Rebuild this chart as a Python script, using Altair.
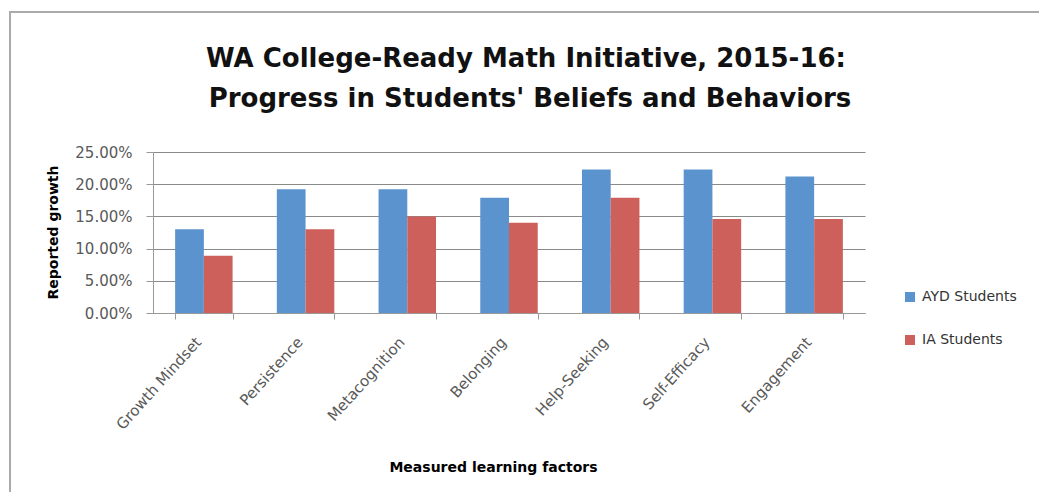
import altair as alt
import pandas as pd

factors = ["Growth Mindset", "Persistence", "Metacognition", "Belonging",
           "Help-Seeking", "Self-Efficacy", "Engagement"]
ayd = [0.130, 0.192, 0.192, 0.179, 0.223, 0.223, 0.212]
ia = [0.089, 0.130, 0.150, 0.140, 0.179, 0.146, 0.146]
series = ["AYD Students", "IA Students"]
colors = ["#5B93CE", "#CD605A"]
y_ticks = [0, 0.05, 0.10, 0.15, 0.20, 0.25]
title_lines = ["WA College-Ready Math Initiative, 2015-16:",
               "Progress in Students' Beliefs and Behaviors"]

rows = []
for f, a, b in zip(factors, ayd, ia):
    rows.append({"factor": f, "series": series[0], "value": a})
    rows.append({"factor": f, "series": series[1], "value": b})
df = pd.DataFrame(rows)

FONT = "DejaVu Sans"

bars = alt.Chart(df).mark_bar().encode(
    x=alt.X("factor:N", sort=factors,
            scale=alt.Scale(paddingInner=0.435, paddingOuter=0.2175),
            axis=alt.Axis(title="Measured learning factors", labelAngle=-48,
                          labelFontSize=15, labelColor="#595959", labelFont=FONT,
                          labelAlign="right", labelBaseline="middle", labelPadding=20,
                          labelOffset=-6,
                          tickBand="extent", tickSize=6, tickColor="#999999",
                          domainColor="#999999", grid=False,
                          titleFont=FONT, titleFontSize=14, titleFontWeight="bold",
                          titleColor="#000000", titleX=340, titleY=154,
                          titleAlign="center", titleBaseline="middle")),
    xOffset=alt.XOffset("series:N", sort=series, scale=alt.Scale(paddingInner=0, paddingOuter=0)),
    y=alt.Y("value:Q", scale=alt.Scale(domain=[0, 0.25], nice=False),
            axis=alt.Axis(title="Reported growth", values=y_ticks, format=".2%",
                          labelFontSize=15, labelColor="#595959", labelFont=FONT,
                          labelPadding=14, tickSize=7, tickColor="#999999",
                          domainColor="#999999", gridColor="#8a8a8a",
                          titleFont=FONT, titleFontSize=14, titleFontWeight="bold",
                          titleColor="#000000", titleX=-100, titleY=80,
                          titleAlign="center", titleBaseline="middle")),
    color=alt.Color("series:N", sort=series,
                    scale=alt.Scale(domain=series, range=colors),
                    legend=alt.Legend(title=None, orient="none", legendX=750, legendY=138,
                                      symbolType="square", symbolSize=100, symbolStrokeWidth=0,
                                      labelFontSize=14, labelFont=FONT, labelColor="#333333",
                                      rowPadding=29, labelOffset=5)),
)

border = alt.Chart(pd.DataFrame({"a": [0]})).mark_rect(
    fill=None, stroke="#aaaaaa", strokeWidth=2
).encode(x=alt.value(-143), x2=alt.value(1000), y=alt.value(-140), y2=alt.value(600))

title1 = alt.Chart(pd.DataFrame({"a": [0]})).mark_text(
    text=title_lines[0], font=FONT, fontSize=26, fontWeight="bold", color="#111111",
    align="center", baseline="alphabetic"
).encode(x=alt.value(373), y=alt.value(-85))

title2 = alt.Chart(pd.DataFrame({"a": [0]})).mark_text(
    text=title_lines[1], font=FONT, fontSize=26, fontWeight="bold", color="#111111",
    align="center", baseline="alphabetic"
).encode(x=alt.value(377), y=alt.value(-45))

chart = alt.layer(border, title1, title2, bars).properties(
    width=712, height=161,
    autosize=alt.AutoSizeParams(type="none"),
    padding={"left": 145, "top": 144, "right": 174, "bottom": 179},
).configure_view(stroke=None)

chart.save("out.html", embed_options={"renderer": "svg", "actions": False})
